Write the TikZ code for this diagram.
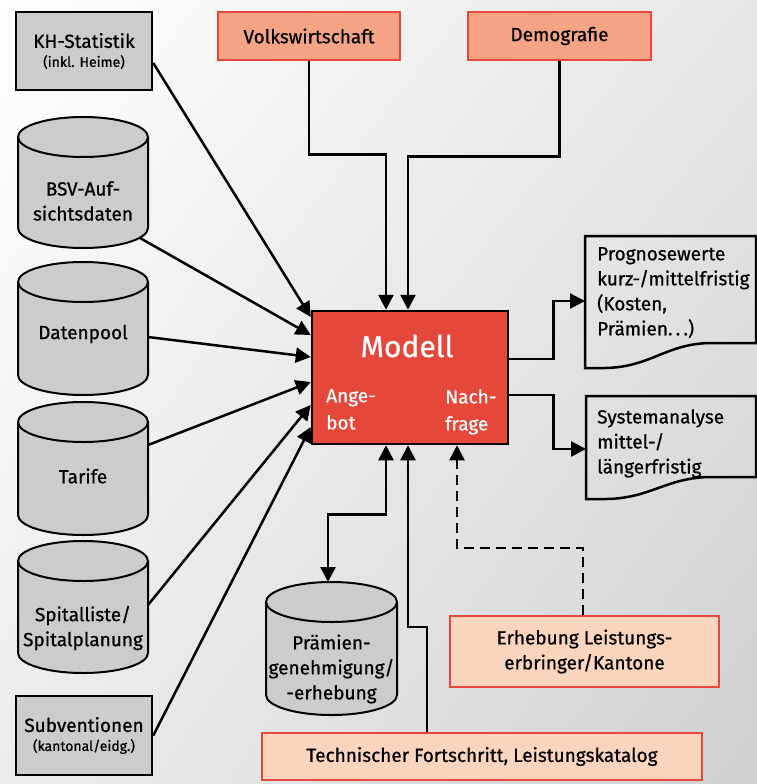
\documentclass[tikz,border=0pt]{standalone}
\usepackage{fontspec}
\setmainfont{Fira Sans}[FakeBold=0.7]
\usetikzlibrary{arrows.meta,shadings}
\definecolor{salmon}{HTML}{F4A484}
\definecolor{peach}{HTML}{FBD4BE}
\definecolor{boxred}{HTML}{E8483C}
\definecolor{modred}{HTML}{E5473B}
\definecolor{cylgray}{HTML}{CCCCCC}
\definecolor{bgA}{HTML}{FFFFFF}
\definecolor{bgB}{HTML}{E6E6E6}
\definecolor{bgC}{HTML}{ECECEC}
\definecolor{bgD}{HTML}{D0D0D0}
\newcommand\drawcyl[4]{%
  \fill[cylgray] (#1-#4,#2) -- (#1-#4,#3) arc[start angle=180,end angle=0,x radius=#4,y radius=20] -- (#1+#4,#2) arc[start angle=0,end angle=-180,x radius=#4,y radius=20] -- cycle;
  \draw[cylline] (#1-#4,#2) -- (#1-#4,#3) arc[start angle=180,end angle=0,x radius=#4,y radius=20] -- (#1+#4,#2);
  \draw[cylline] (#1,#2) ellipse[x radius=#4,y radius=20];
}
\begin{document}
\begin{tikzpicture}[x=1pt,y=-1pt,
  >={Triangle[length=15pt,width=15pt]},
  conn/.style={line width=2.5pt,->},
  cylline/.style={draw=black,line width=2pt},
  txt/.style={inner sep=0pt,align=center,font=\fontsize{19}{25}\selectfont},
  graybox/.style={draw=black,line width=2.5pt,fill=cylgray,inner sep=0pt,align=center,font=\fontsize{19}{19}\selectfont},
  salbox/.style={draw=boxred,fill=salmon,line width=2.5pt,inner sep=0pt,align=center,font=\fontsize{19}{25}\selectfont},
  peachbox/.style={draw=boxred,fill=peach,line width=2.5pt,inner sep=0pt,align=center,font=\fontsize{19}{25}\selectfont},
  docline/.style={draw=black,line width=2.5pt},
  doctxt/.style={inner sep=0pt,align=left,font=\fontsize{19}{25}\selectfont,anchor=north west},
  modtxt/.style={inner sep=0pt,align=left,text=white,font=\fontsize{19}{27}\selectfont,anchor=north west}
]
\useasboundingbox (0,0) rectangle (757,784);
\shade[upper left=bgA,upper right=bgB,lower left=bgC,lower right=bgD] (0,0) rectangle (757,784);

% left boxes
\node[graybox,minimum width=136pt,minimum height=78pt] (kh) at (84,51)
  {KH-Statistik\\{\fontsize{14}{19}\selectfont (inkl. Heime)}};
\node[graybox,minimum width=136pt,minimum height=79pt] (sub) at (84,735.5)
  {Subventionen\\{\fontsize{14}{19}\selectfont (kantonal/eidg.)}};

% cylinders
\drawcyl{83}{137}{228}{65}
\node[txt] (bsv) at (83,201) {BSV-Auf-\\sichtsdaten};
\coordinate (bsvout) at (140,238);
\drawcyl{83}{282}{375}{65}
\node[txt] (dp) at (83,334) {Datenpool};
\coordinate (dpout) at (148,337);
\drawcyl{83}{422}{515}{65}
\node[txt] (tar) at (83,476) {Tarife};
\coordinate (tarout) at (148,445);
\drawcyl{83}{561}{653}{65}
\node[txt] (sp) at (83,628) {Spitalliste/\\Spitalplanung};
\coordinate (spout) at (148,605);
\drawcyl{331.5}{602}{695}{65.5}
\node[txt] (pr) at (331.5,669) {Prämien-\\genehmigung/\\-erhebung};
\coordinate (prtop) at (328,582);

% top boxes
\node[salbox,minimum width=182pt,minimum height=48pt] (vw) at (309,36) {Volkswirtschaft};
\node[salbox,minimum width=183pt,minimum height=48pt] (dg) at (559.5,36) {Demografie};

% bottom boxes
\node[peachbox,minimum width=269pt,minimum height=71pt] (eh) at (584.5,651.5) {Erhebung Leistungs-\\erbringer/Kantone};
\node[peachbox,minimum width=440pt,minimum height=47pt] (tk) at (482,756.5) {Technischer Fortschritt, Leistungskatalog};

% model
\node[draw=black,line width=2.5pt,fill=modred,minimum width=196pt,minimum height=133pt] (mod) at (410,377.5) {};
\node[inner sep=0pt,text=white,font=\fontsize{30}{32}\selectfont] (modt) at (407,346) {Modell};
\node[modtxt] (ang) at (326,389) {Ange-\\bot};
\node[modtxt] (nach) at (445,389) {Nach-\\frage};

% documents
\draw[docline] (585,236) -- (756,236) -- (756,343) -- (712,343) .. controls (665,343) and (650,369) .. (600,368) -- (585,368) -- cycle;
\node[doctxt] (prog) at (597,247) {Prognosewerte\\kurz-/mittelfristig\\(Kosten,\\Prämien.\,.\,.)};
\coordinate (progin) at (585,301);
\draw[docline] (586,396) -- (756,396) -- (756,477) -- (712,477) .. controls (665,477) and (650,500) .. (601,499) -- (586,499) -- cycle;
\node[doctxt] (sys) at (597,409) {Systemanalyse\\mittel-/\\längerfristig};
\coordinate (sysin) at (586,449);

% connectors left
\draw[conn] ([yshift=-12pt]kh.east) -- ([yshift=60.5pt]mod.west);
\draw[conn] (bsvout) -- ([yshift=42.5pt]mod.west);
\draw[conn] (dpout) -- ([yshift=20.5pt]mod.west);
\draw[conn] (tarout) -- ([yshift=-4.5pt]mod.west);
\draw[conn] (spout) -- ([yshift=-27.5pt]mod.west);
\draw[conn] (sub.east) -- ([yshift=-49.5pt]mod.west);

% top connectors
\draw[conn] (vw.south) -- ++(0,93) -| ([xshift=-24pt]mod.north);
\draw[conn] (dg.south) -- ++(0,95) -| ([xshift=-2pt]mod.north);

% outputs
\draw[conn] ([yshift=18.5pt]mod.east) -- ++(44,0) |- (progin);
\draw[conn] ([yshift=-17.5pt]mod.east) -- ++(44,0) |- (sysin);

% bottom connectors
\draw[line width=2.5pt,<->] ([xshift=-24pt]mod.south) -- ++(0,69) -| (prtop);
\draw[conn] ([xshift=-55pt]tk.north) -- ++(0,-105) -| ([xshift=-2pt]mod.south);
\draw[conn,dash pattern=on 10pt off 6pt] ([xshift=-1.5pt]eh.north) -- ++(0,-67) -| ([xshift=47pt]mod.south);
\end{tikzpicture}
\end{document}
